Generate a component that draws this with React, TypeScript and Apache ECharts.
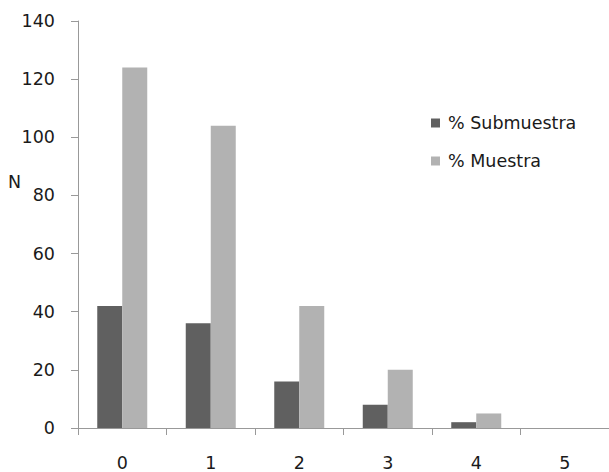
import React, { useEffect, useRef } from "react";
import * as echarts from "echarts";

const categories = ["0", "1", "2", "3", "4", "5"];
const submuestra = [42, 36, 16, 8, 2, 0];
const muestra = [124, 104, 42, 20, 5, 0];
const seriesNames = ["% Submuestra", "% Muestra"];
const yAxisName = "N";

export default function App() {
  const ref = useRef<HTMLDivElement>(null);
  useEffect(() => {
    if (!ref.current) return;
    const chart = echarts.init(ref.current, null, { renderer: "svg" });
    const font = "DejaVu Sans";
    const fs = 17.5;
    const txt = "#1a1a1a";
    const axisColor = "#999999";
    chart.setOption({
      animation: false,
      backgroundColor: "#ffffff",
      textStyle: { fontFamily: font },
      grid: { left: 78, top: 21, width: 539, bottom: 44 },
      legend: {
        orient: "vertical",
        left: 426,
        top: 109,
        itemWidth: 9,
        itemHeight: 9,
        itemGap: 20,
        icon: "rect",
        textStyle: { fontFamily: font, fontSize: fs, color: txt, padding: [0, 0, 0, 3] },
        data: seriesNames,
      },
      xAxis: {
        type: "category",
        data: categories,
        axisLine: { lineStyle: { color: axisColor, width: 1 } },
        axisTick: { show: true, length: 7, alignWithLabel: false, lineStyle: { color: axisColor } },
        axisLabel: { fontFamily: font, fontSize: fs, color: txt, margin: 26 },
      },
      yAxis: {
        type: "value",
        min: 0,
        max: 140,
        interval: 20,
        splitLine: { show: false },
        axisLine: { show: true, lineStyle: { color: axisColor, width: 1 } },
        axisTick: { show: true, length: 7, lineStyle: { color: axisColor } },
        axisLabel: { fontFamily: font, fontSize: fs, color: txt, margin: 23 },
      },
      graphic: [
        {
          type: "text",
          left: 8,
          top: 173,
          style: { text: yAxisName, fontFamily: font, fontSize: fs, fill: txt },
        },
      ],
      series: [
        {
          name: seriesNames[0],
          type: "bar",
          data: submuestra,
          barWidth: 25,
          barGap: "0%",
          itemStyle: { color: "#606060" },
        },
        {
          name: seriesNames[1],
          type: "bar",
          data: muestra,
          barWidth: 25,
          barGap: "0%",
          itemStyle: { color: "#b2b2b2" },
        },
      ],
    });
    return () => chart.dispose();
  }, []);
  return <div ref={ref} style={{ width: 609, height: 472, position: "absolute", left: 0, top: 0 }} />;
}
